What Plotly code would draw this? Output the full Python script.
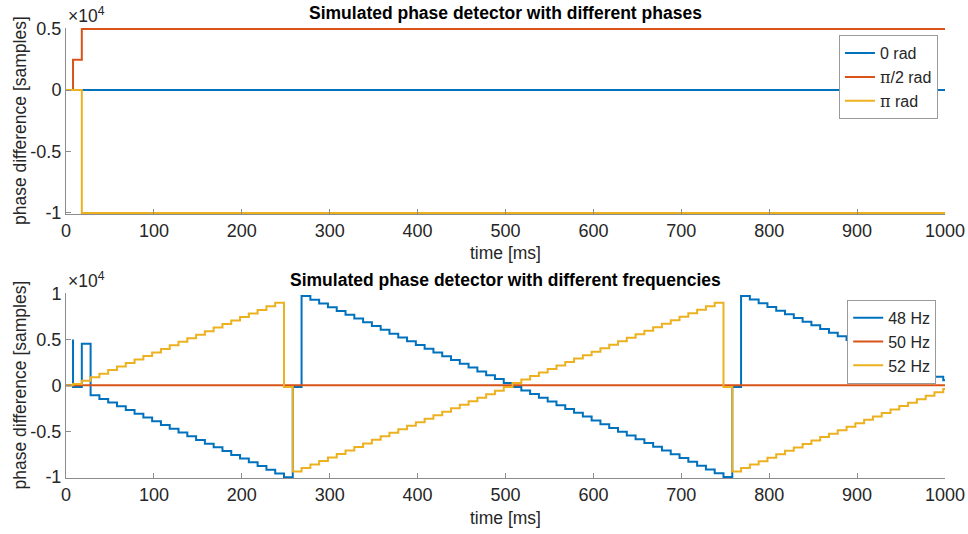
import plotly.graph_objects as go

# ---------------- data ----------------
# top panel: different phases
top_t_zero = [0, 1000]
top_v_zero = [0, 0]
top_t_half_pi = [0, 8, 18, 1000]
top_v_half_pi = [0, 2480, 4980, 4980]
top_t_pi = [0, 18, 1000]
top_v_pi = [0, -10000, -10000]

# bottom panel: different frequencies (step updates every ~10 ms)
step_times = [8 + 10 * k for k in range(100)]

hz48_vals = ([-180, 4530, -1070,
              -1480, -1880, -2290, -2700, -3100, -3510, -3920, -4320, -4730, -5140, -5540,
              -5950, -6360, -6760, -7170, -7580, -7980, -8390, -8800, -9200, -9610,
              -10020, -180,
              9740, 9330, 8920, 8510, 8100, 7690, 7280, 6870, 6460, 6050, 5630, 5220, 4810,
              4400, 3990, 3580, 3170, 2760, 2350, 1940, 1520, 1110, 700, 250, -180, -560,
              -950, -1360, -1770, -2180, -2590, -3000, -3410, -3820, -4230, -4650, -5060,
              -5470, -5880, -6290, -6700, -7110, -7520, -7930, -8340, -8760, -9170, -9580,
              -9990, -180,
              9740, 9340, 8940, 8540, 8140, 7740, 7340, 6940, 6540, 6140, 5740, 5340, 4940,
              4540, 4140, 3740, 3340, 2940, 2540, 2140, 1740, 1340, 940, 540])
hz48_t = [0, 8] + step_times + [1000]
hz48_v = [0, 5000] + hz48_vals + [540]

hz50_t = [0, 1000]
hz50_v = [0, 0]

hz52_vals = ([150,
              500, 890, 1270, 1660, 2040, 2430, 2820, 3200, 3590, 3970, 4360, 4750, 5130,
              5520, 5900, 6290, 6680, 7060, 7450, 7830, 8220, 8610, 8990,
              -180,
              -9390, -9010, -8620, -8240, -7860, -7480, -7090, -6710, -6330, -5940, -5560,
              -5180, -4800, -4410, -4030, -3650, -3260, -2880, -2500, -2110, -1730, -1350,
              -970, -580, -180, 250, 630, 1010, 1390, 1770, 2150, 2530, 2910, 3290, 3670,
              4050, 4430, 4810, 5190, 5570, 5950, 6330, 6710, 7090, 7470, 7850, 8230, 8610,
              8990,
              -180,
              -9390, -9015, -8640, -8265, -7890, -7515, -7140, -6765, -6390, -6015, -5640,
              -5265, -4890, -4515, -4140, -3765, -3390, -3015, -2640, -2265, -1890, -1515,
              -1140, -765, -390])
hz52_t = [0] + step_times + [1000]
hz52_v = [0] + hz52_vals + [-390]

x_ticks = [0, 100, 200, 300, 400, 500, 600, 700, 800, 900, 1000]
top_y_ticks = [-10000, -5000, 0, 5000]
top_y_text = ["-1", "-0.5", "0", "0.5"]
bot_y_ticks = [-10000, -5000, 0, 5000, 10000]
bot_y_text = ["-1", "-0.5", "0", "0.5", "1"]

# ---------------- styling ----------------
C_BLUE = "#0072BD"
C_ORANGE = "#D95319"
C_YELLOW = "#EDB120"
AX = "#8c8c8c"
TXT = "#262626"
FONT = "Liberation Sans, Arial, sans-serif"
PI = "<span style='font-family:DejaVu Serif'>π</span>"

fig = go.Figure()
lw = 2
fig.add_trace(go.Scatter(x=top_t_zero, y=top_v_zero, mode="lines", line=dict(color=C_BLUE, width=lw, shape="hv"),
                         name="0 rad", xaxis="x", yaxis="y", legend="legend"))
fig.add_trace(go.Scatter(x=top_t_half_pi, y=top_v_half_pi, mode="lines", line=dict(color=C_ORANGE, width=lw, shape="hv"),
                         name=PI + "/2 rad", xaxis="x", yaxis="y", legend="legend"))
fig.add_trace(go.Scatter(x=top_t_pi, y=top_v_pi, mode="lines", line=dict(color=C_YELLOW, width=lw, shape="hv"),
                         name=PI + " rad", xaxis="x", yaxis="y", legend="legend"))

fig.add_trace(go.Scatter(x=hz48_t, y=hz48_v, mode="lines", line=dict(color=C_BLUE, width=lw, shape="hv"),
                         name="48 Hz", xaxis="x2", yaxis="y2", legend="legend2"))
fig.add_trace(go.Scatter(x=hz50_t, y=hz50_v, mode="lines", line=dict(color=C_ORANGE, width=lw, shape="hv"),
                         name="50 Hz", xaxis="x2", yaxis="y2", legend="legend2"))
fig.add_trace(go.Scatter(x=hz52_t, y=hz52_v, mode="lines", line=dict(color=C_YELLOW, width=lw, shape="hv"),
                         name="52 Hz", xaxis="x2", yaxis="y2", legend="legend2"))

common_x = dict(range=[0, 1000], tickvals=x_ticks, ticks="inside", ticklen=5, tickcolor=AX,
                showline=True, linecolor=AX, linewidth=1, showgrid=False, zeroline=False,
                tickfont=dict(size=18, color=TXT, family=FONT), mirror=False, automargin=False)
common_y = dict(ticks="inside", ticklen=5, tickcolor=AX, showline=True, linecolor=AX, linewidth=1,
                showgrid=False, zeroline=False, tickfont=dict(size=18, color=TXT, family=FONT),
                automargin=False)

legend_style = dict(bgcolor="white", bordercolor="#9a9a9a", borderwidth=1,
                    font=dict(size=16, color=TXT, family=FONT), itemwidth=30,
                    xanchor="right", yanchor="top", tracegroupgap=0)

fig.update_layout(
    width=968, height=534,
    margin=dict(l=66, r=23, t=28, b=56, autoexpand=False),
    paper_bgcolor="white", plot_bgcolor="white",
    font=dict(family=FONT, color=TXT),
    xaxis=dict(domain=[0, 1], anchor="y", **common_x),
    yaxis=dict(domain=[0.5867, 1.0], anchor="x", range=[-10090, 5060],
               tickvals=top_y_ticks, ticktext=top_y_text, **common_y),
    xaxis2=dict(domain=[0, 1], anchor="y2", **common_x),
    yaxis2=dict(domain=[0, 0.4111], anchor="x2", range=[-10100, 10060],
                tickvals=bot_y_ticks, ticktext=bot_y_text, **common_y),
    legend=dict(x=0.992, y=0.984, **legend_style),
    legend2=dict(x=0.99, y=0.396, **legend_style),
    showlegend=True,
)

ann_font = dict(family=FONT, size=17.5, color=TXT)
title_font = dict(family=FONT, size=17.5, color="black")
annotations = [
    dict(text="<b>Simulated phase detector with different phases</b>", x=0.5, y=1.0333,
         xref="paper", yref="paper", showarrow=False, font=title_font, xanchor="center", yanchor="middle"),
    dict(text="<b>Simulated phase detector with different frequencies</b>", x=0.5, y=0.44,
         xref="paper", yref="paper", showarrow=False, font=title_font, xanchor="center", yanchor="middle"),
    dict(text="time [ms]", x=0.5, y=0.5011, xref="paper", yref="paper", showarrow=False,
         font=ann_font, xanchor="center", yanchor="middle"),
    dict(text="time [ms]", x=0.5, y=-0.0889, xref="paper", yref="paper", showarrow=False,
         font=ann_font, xanchor="center", yanchor="middle"),
    dict(text="phase difference [samples]", x=-0.0523, y=0.7933, xref="paper", yref="paper",
         showarrow=False, font=ann_font, textangle=-90, xanchor="center", yanchor="middle"),
    dict(text="phase difference [samples]", x=-0.0523, y=0.2056, xref="paper", yref="paper",
         showarrow=False, font=ann_font, textangle=-90, xanchor="center", yanchor="middle"),
    dict(text="×10<sup>4</sup>", x=0.0, y=1.0, xref="paper", yref="paper", showarrow=False,
         font=ann_font, xanchor="left", yanchor="bottom"),
    dict(text="×10<sup>4</sup>", x=0.0, y=0.4111, xref="paper", yref="paper", showarrow=False,
         font=ann_font, xanchor="left", yanchor="bottom"),
]
fig.update_layout(annotations=annotations)

fig.write_html("out.html")
